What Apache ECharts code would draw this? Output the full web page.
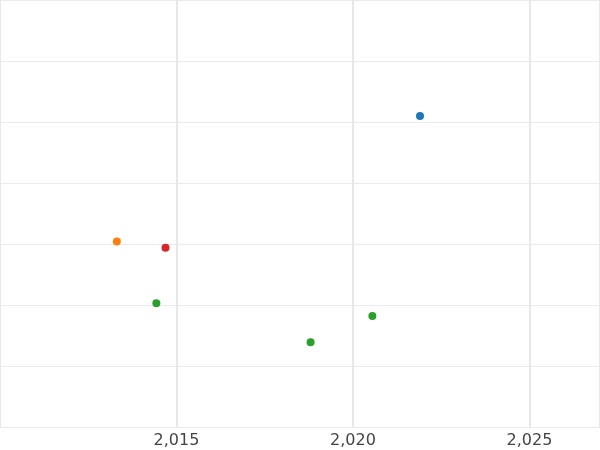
<!DOCTYPE html>
<html><head><meta charset="utf-8">
<script src="https://cdn.jsdelivr.net/npm/echarts@6/dist/echarts.min.js"></script>
<style>html,body{margin:0;padding:0;background:#fff}#c{width:600px;height:450px}</style>
</head><body><div id="c"></div>
<script>
const blueX=[2021.9], blueY=[5.1];
const orangeX=[2013.31], orangeY=[3.04];
const redX=[2014.69], redY=[2.94];
const greenX=[2014.43,2018.8,2020.55], greenY=[2.03,1.39,1.82];
const zip=(a,b)=>a.map((v,i)=>[v,b[i]]);
const mk=(x,y,c)=>({type:'scatter',data:zip(x,y),symbolSize:8,itemStyle:{color:c,opacity:1}});
const chart=echarts.init(document.getElementById('c'));
chart.setOption({
 animation:false,
 grid:{left:-51,right:-2,top:-42,bottom:23},
 xAxis:{type:'value',min:2010,max:2027,interval:5,
  axisLine:{show:false},axisTick:{show:false},
  axisLabel:{color:'#444',fontSize:16,fontFamily:'DejaVu Sans',margin:6,
    showMinLabel:false,showMaxLabel:false},
  splitLine:{lineStyle:{color:'#e8e8e8',width:2}}},
 yAxis:{type:'value',min:0,max:7,interval:1,
  axisLine:{show:false},axisTick:{show:false},axisLabel:{show:false},
  splitLine:{lineStyle:{color:'#ebebeb',width:1}}},
 series:[mk(blueX,blueY,'#1f77b4'),mk(orangeX,orangeY,'#ff7f0e'),mk(redX,redY,'#d62728'),mk(greenX,greenY,'#2ca02c')]
});
</script></body></html>
